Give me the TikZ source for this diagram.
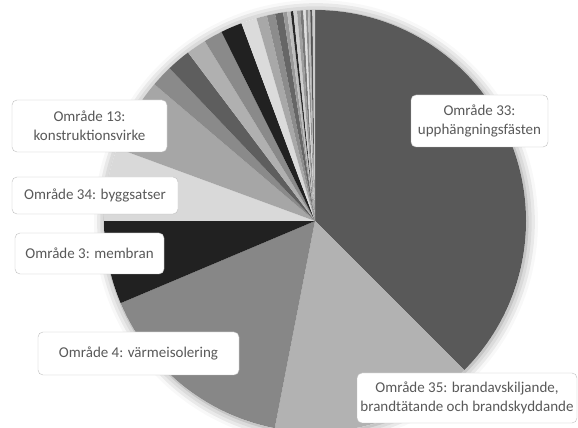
\documentclass[tikz,border=0pt]{standalone}
\usepackage{fontspec}
\setmainfont{Carlito}
\usetikzlibrary{shadows.blur}

\tikzset{
  lbl/.style={draw=black!25, fill=white, rounded corners=5pt, text=black!65,
    align=center, inner sep=0pt, font=\fontsize{15}{19}\selectfont}
}

\begin{document}
\begin{tikzpicture}[x=1pt,y=1pt]
            \clip (0,0) rectangle (578,428);
            \useasboundingbox (0,0) rectangle (578,428);

            % the pie, clockwise from the top
            \begin{scope}[shift={(315,207)}]
            \coordinate (ctr) at (0,0);
            \fill[white,blur shadow={shadow xshift=1pt,shadow yshift=-1pt,
              shadow blur radius=11pt,shadow opacity=45}] (ctr) circle[radius=211];
            \foreach \a/\b/\c in {90/-45/black!65, -45/-101/black!30,
                -101/-157.1/black!47, -157.1/-180/black!87, 180/159.8/black!15,
                159.8/139.6/black!35, 139.6/133.6/black!46, 133.6/127/black!63,
                127/121.5/black!31, 121.5/116.3/black!46, 116.3/110.4/black!87,
                110.4/106.1/black!14, 106.1/103.2/black!34, 103.2/100.9/black!45,
                100.9/98.7/black!60, 98.7/97.6/black!40, 97.6/96.6/black!26,
                96.6/95.9/black!84, 95.9/94.9/black!19, 94.9/94/black!38,
                94/93.2/black!53, 93.2/92.5/black!13, 92.5/91.9/black!44,
                91.9/91.3/black!27, 91.3/90.7/black!67, 90.7/90/black!20}
              \fill[\c] (ctr) -- (\a:211) arc[start angle=\a,end angle=\b,radius=211] -- cycle;
            \end{scope}

            % labels
            \node[lbl,minimum width=137,minimum height=52] (l33) at (479.5,307)
              {Område 33:\\upphängningsfästen};
            \node[lbl,minimum width=220,minimum height=50] (l35) at (467,30)
              {Område 35: brandavskiljande,\\brandtätande och brandskyddande};
            \node[lbl,minimum width=201,minimum height=43] (l4) at (138.5,74.5)
              {Område 4: värmeisolering};
            \node[lbl,minimum width=149,minimum height=41] (l3) at (89.5,174.5)
              {Område 3: membran};
            \node[lbl,minimum width=166,minimum height=37] (l34) at (95,232.5)
              {Område 34: byggsatser};
            \node[lbl,minimum width=155,minimum height=52] (l13) at (89.5,302)
              {Område 13:\\konstruktionsvirke};
        \end{tikzpicture}
\end{document}
